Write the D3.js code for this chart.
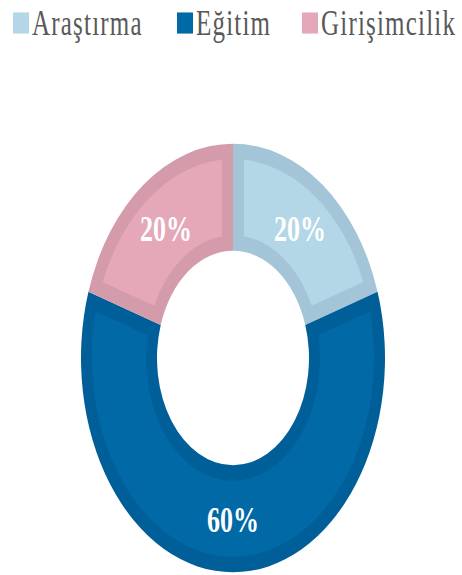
<!DOCTYPE html>
<html><head><meta charset="utf-8">
<script src="https://cdn.jsdelivr.net/npm/d3@7"></script>
<style>body{margin:0;background:#fff}</style>
</head><body>
<svg id="c" width="462" height="575"></svg>
<script>
const categories = ["Araştırma", "Eğitim", "Girişimcilik"];
const values = [20, 60, 20];
const labels = ["20%", "60%", "20%"];
const fills = ["#b3d7e7", "#0069a6", "#e5a8b8"];
const borders = ["#a3c5d7", "#005f98", "#d49cab"];

const svg = d3.select("#c");
const sy = 1.41;
const FONT = "'Liberation Serif'";

// Legend
const legendX = [13, 177, 302];
const lg = svg.append("g").attr("transform", `translate(0,35) scale(1,${sy})`);
categories.forEach((c, i) => {
  lg.append("rect").attr("x", legendX[i]).attr("y", -16).attr("width", 16).attr("height", 15).attr("fill", fills[i]);
  lg.append("text").attr("x", legendX[i] + 19).attr("y", 0)
    .style("font-family", FONT)
    .attr("font-size", 25).attr("letter-spacing", 1.2)
    .attr("fill", "#595959").text(c);
});

// Donut
const cx = 233, cy = 358, R = 152, r = 76;
const g = svg.append("g").attr("transform", `translate(${cx},${cy}) scale(1,${sy})`);
const pie = d3.pie().sort(null).value(d => d)(values);
const arcOuter = d3.arc().innerRadius(r).outerRadius(R);
const inset = 11;
const arcInner = d3.arc().innerRadius(r + inset).outerRadius(R - inset)
  .padRadius(100);

g.selectAll("path.o").data(pie).join("path").attr("class", "o")
  .attr("d", arcOuter).attr("fill", (d, i) => borders[i]);
g.selectAll("path.i").data(pie).join("path").attr("class", "i")
  .attr("d", d => arcInner({...d, padAngle: 2 * inset / 100})).attr("fill", (d, i) => fills[i]);

g.selectAll("text.l").data(pie).join("text").attr("class", "l")
  .attr("transform", d => `translate(${arcOuter.centroid(d)})`)
  .attr("text-anchor", "middle").attr("dy", "0.35em")
  .style("font-family", FONT)
  .attr("font-weight", "bold").attr("font-size", 26)
  .attr("fill", "#fff").text((d, i) => labels[i]);
</script>
</body></html>
